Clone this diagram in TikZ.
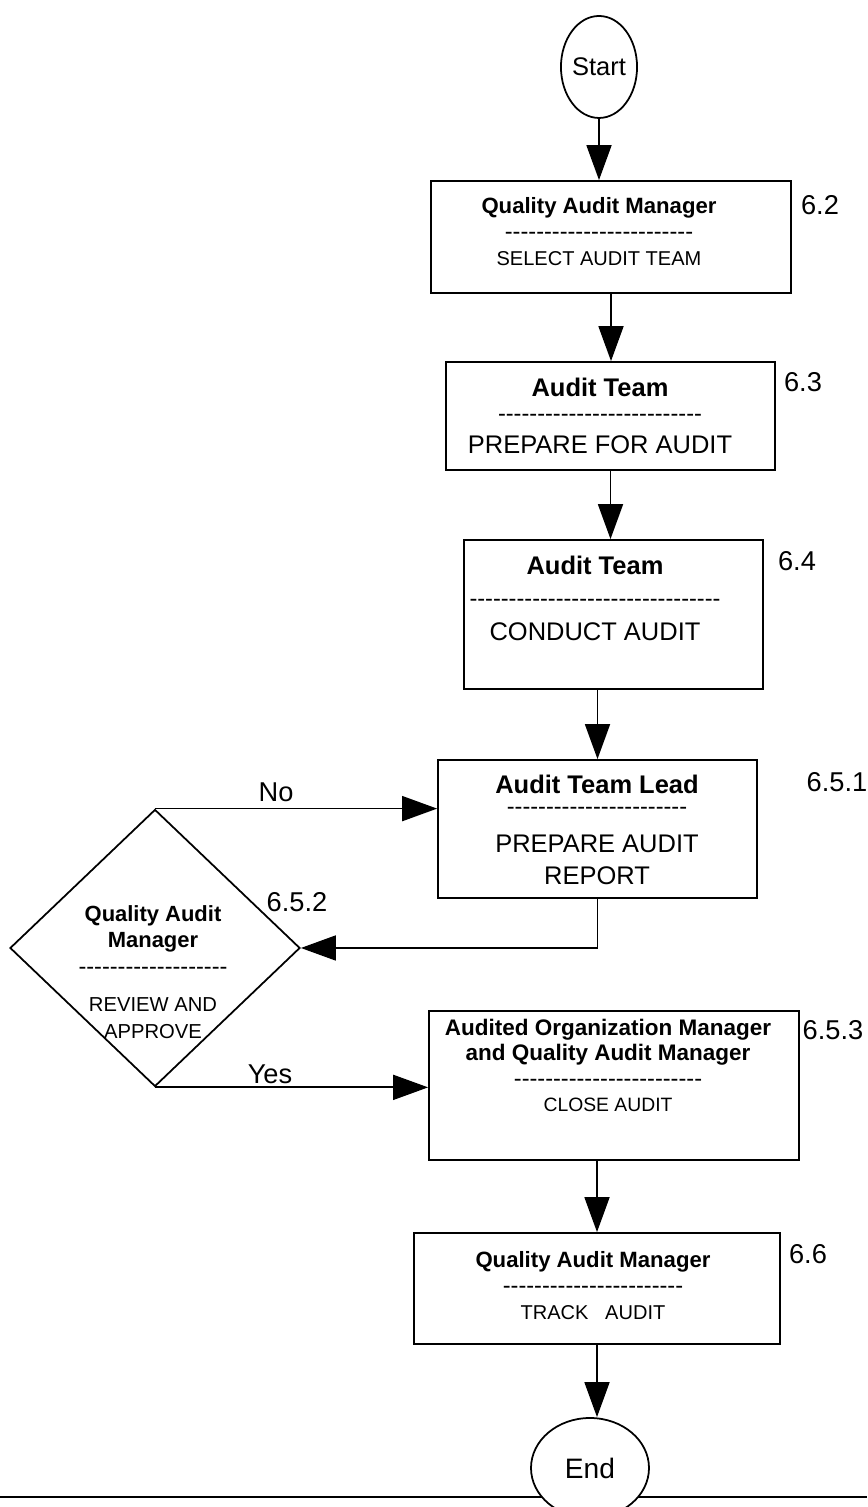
\documentclass[tikz,border=0pt]{standalone}
\usepackage{fontspec}
\setmainfont{Liberation Sans}[Ligatures=TeXOff]
\usetikzlibrary{shapes.geometric,arrows.meta}
\tikzset{
  box/.style={draw,line width=1pt,rectangle,inner sep=0pt},
  term/.style={draw,line width=1pt,ellipse,inner sep=0pt,fill=white,font=\fontsize{16}{19}\selectfont},
  decision/.style={draw,line width=1pt,diamond,inner sep=0pt},
  boxtext/.style={align=center,inner sep=0pt},
  stepno/.style={inner sep=0pt,font=\fontsize{15.5}{18}\selectfont},
  flow/.style={line width=1pt,-{Triangle[length=7mm,width=5mm]}},
}
\begin{document}
\begin{tikzpicture}
   \useasboundingbox (0,0) rectangle (17.34,30.14);
   \draw [line width=1pt] (0,0.20)-- (17.34,0.20);
   % terminals
   \node[term,minimum width=1.52cm,minimum height=2.04cm,font=\fontsize{14.5}{17}\selectfont] (start) at (11.98,28.80) {Start};
   \node[term,minimum width=2.36cm,minimum height=2.00cm] (end) at (11.80,0.78) {End};
   % process boxes
   \node[box,minimum width=7.20cm,minimum height=2.24cm] (select) at (12.22,25.40) {};
   \node[box,minimum width=6.58cm,minimum height=2.16cm] (prepare) at (12.21,21.82) {};
   \node[box,minimum width=5.98cm,minimum height=2.98cm] (conduct) at (12.27,17.85) {};
   \node[box,minimum width=6.38cm,minimum height=2.76cm] (report) at (11.95,13.56) {};
   \node[decision,minimum width=5.80cm,minimum height=5.54cm] (review) at (3.10,11.18) {};
   \node[box,minimum width=7.40cm,minimum height=2.98cm] (close) at (12.28,8.43) {};
   \node[box,minimum width=7.32cm,minimum height=2.22cm] (track) at (11.94,4.37) {};
   % texts
   \node[boxtext,font=\fontsize{11.4}{15}\selectfont] (selecttxt) at (11.98,25.51)
      {{\bfseries\fontsize{12.6}{15}\selectfont Quality Audit Manager}\\
       {\fontsize{13.4}{15}\selectfont ------------------------}\\
       SELECT AUDIT TEAM};
   \node[boxtext,font=\fontsize{14.5}{14}\selectfont] (preparetxt) at (12.00,21.82)
      {{\bfseries Audit Team}\\
       {\fontsize{13.4}{14}\selectfont --------------------------}\\[4.5pt]
       PREPARE FOR AUDIT};
   \node[boxtext,font=\fontsize{14.5}{18}\selectfont] (conducttxt) at (11.90,18.17)
      {{\bfseries Audit Team}\\
       {\fontsize{13.4}{18}\selectfont --------------------------------}\\[1.5pt]
       CONDUCT AUDIT};
   \node[boxtext,font=\fontsize{14.5}{18.7}\selectfont] (reporttxt) at (11.94,13.54)
      {{\bfseries Audit Team Lead}\\[-6.7pt]
       {\fontsize{13.4}{18.7}\selectfont -----------------------}\\[2.8pt]
       PREPARE AUDIT\\
       REPORT};
   \node[boxtext,font=\fontsize{11.5}{15}\selectfont] (reviewtxt) at (3.06,10.70)
      {{\bfseries\fontsize{12.5}{15}\selectfont Quality Audit}\\
       {\bfseries\fontsize{12.5}{15}\selectfont Manager}\\
       {\fontsize{13.4}{15}\selectfont -------------------}\\[6.5pt]
       REVIEW AND\\
       APPROVE};
   \node[boxtext,font=\fontsize{11}{14.5}\selectfont] (closetxt) at (12.16,8.83)
      {{\bfseries\fontsize{12.8}{14.5}\selectfont Audited Organization Manager}\\
       {\bfseries\fontsize{12.8}{14.5}\selectfont and Quality Audit Manager}\\
       {\fontsize{13.4}{14.5}\selectfont ------------------------}\\
       CLOSE AUDIT};
   \node[boxtext,font=\fontsize{11.4}{15}\selectfont] (tracktxt) at (11.86,4.43)
      {{\bfseries\fontsize{12.6}{15}\selectfont Quality Audit Manager}\\
       {\fontsize{13.4}{15}\selectfont -----------------------}\\
       TRACK\ \ \ AUDIT};
   % step numbers
   \node[stepno] (n62) at (16.40,26.04) {6.2};
   \node[stepno] (n63) at (16.06,22.50) {6.3};
   \node[stepno] (n64) at (15.94,18.92) {6.4};
   \node[stepno] (n651) at (16.74,14.50) {6.5.1};
   \node[stepno] (n652) at (5.94,12.10) {6.5.2};
   \node[stepno] (n653) at (16.66,9.54) {6.5.3};
   \node[stepno] (n66) at (16.16,5.06) {6.6};
   \node[stepno] (no) at (5.52,14.30) {No};
   \node[stepno] (yes) at (5.40,8.66) {Yes};
   % connectors
   \draw[flow] (start.south) -- (start.south |- select.north);
   \draw[flow] (select.south) -- (select.south |- prepare.north);
   \draw[flow] (prepare.south) -- (prepare.south |- conduct.north);
   \draw[flow] (report.north |- conduct.south) -- (report.north);
   \draw[flow] (report.south) |- (review.east);
   \draw[flow] (review.north) -- (review.north -| report.west);
   \draw[flow] (review.south) -- (review.south -| close.west);
   \draw[flow] (track.north |- close.south) -- (track.north);
   \draw[flow] (track.south) -- (track.south |- end.north);
\end{tikzpicture}
\end{document}
